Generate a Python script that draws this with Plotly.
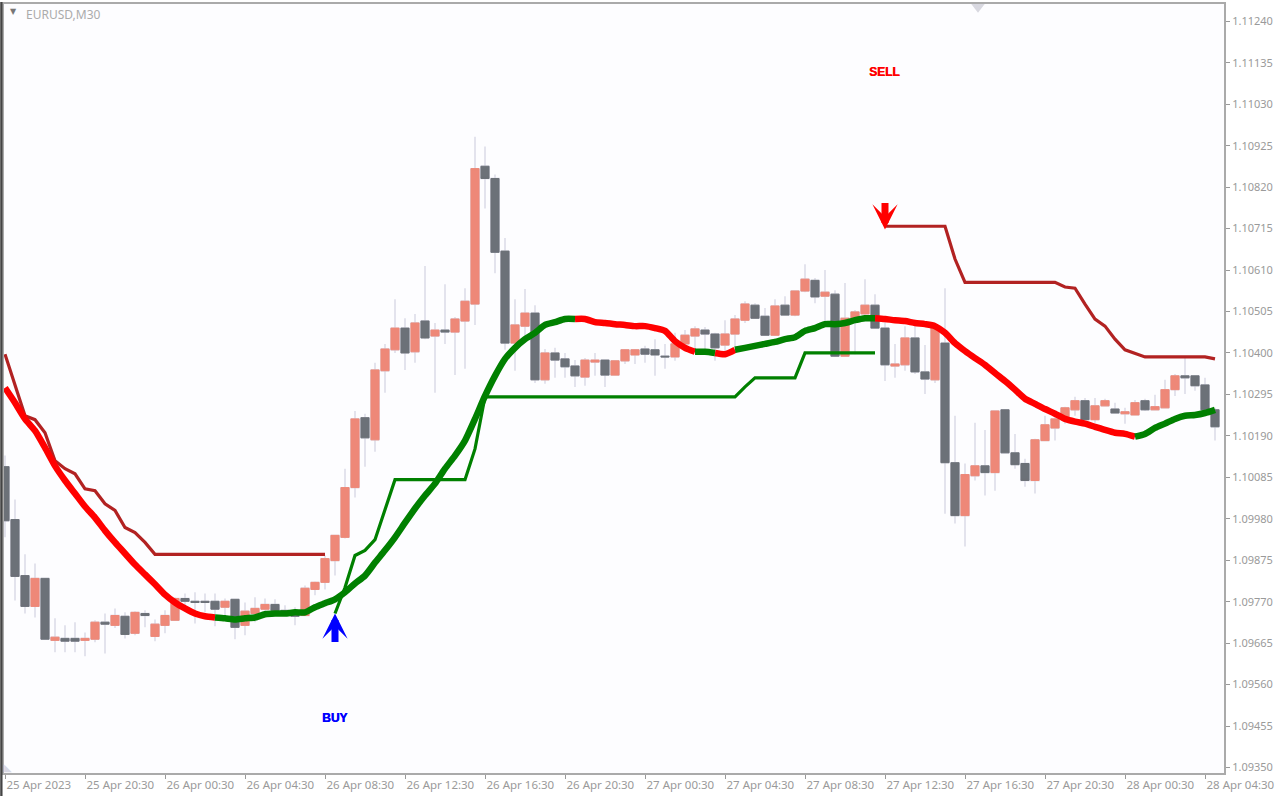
import plotly.graph_objects as go

# EURUSD M30, prices kept in points (1 point = 0.00001)
opens = [110112,109978,109836,109758,109829,109672,109677,109677,109672,109675,
         109718,109710,109733,109690,109740,109682,109710,109723,109778,109771,
         109771,109771,109756,109776,109710,109740,109751,109763,109748,109746,
         109735,109801,109819,109874,109933,110059,110236,110180,110355,110408,
         110463,110403,110481,110443,110458,110453,110481,110524,110873,110842,
         110658,110425,110468,110501,110332,110400,110385,110367,110339,110377,
         110382,110344,110380,110395,110410,110408,110392,110390,110423,110443,
         110458,110448,110420,110448,110483,110521,110493,110445,110521,110496,
         110557,110584,110544,110549,110392,110488,110499,110521,110463,110367,
         110370,110438,110352,110332,110425,110122,109988,110089,110114,110097,
         110256,110147,110120,110077,110178,110210,110236,110256,110279,110231,
         110266,110258,110246,110243,110279,110256,110261,110307,110342,110342,
         110319,110256]
closes = [109975,109834,109758,109829,109675,109680,109670,109670,109677,109718,
          109713,109735,109687,109743,109735,109713,109735,109778,109771,109768,
          109768,109751,109771,109705,109746,109753,109763,109748,109743,109733,
          109804,109819,109879,109938,110059,110233,110185,110357,110410,110463,
          110400,110476,110438,110458,110453,110486,110531,110867,110842,110655,
          110425,110471,110501,110332,110400,110382,110365,110342,110382,110382,
          110344,110380,110408,110408,110397,110395,110390,110423,110445,110461,
          110448,110413,110448,110486,110524,110488,110445,110519,110496,110557,
          110587,110542,110554,110392,110488,110504,110521,110463,110370,110372,
          110438,110352,110334,110463,110122,109988,110092,110114,110097,110253,
          110147,110117,110077,110180,110218,110233,110261,110279,110231,110266,
          110279,110248,110251,110274,110256,110264,110307,110342,110337,110317,
          110256,110213]
highs = [110140,110029,109890,109867,109829,109728,109710,109718,109692,109723,
         109740,109753,109743,109746,109748,109725,109748,109781,109791,109794,
         109791,109791,109778,109776,109768,109781,109778,109776,109761,109756,
         109811,109821,109887,109938,110107,110253,110246,110375,110423,110536,
         110488,110499,110620,110476,110574,110491,110564,110948,110923,110852,
         110691,110536,110562,110521,110410,110413,110400,110382,110387,110400,
         110382,110380,110410,110410,110418,110435,110423,110451,110458,110468,
         110466,110451,110483,110496,110531,110526,110514,110536,110544,110557,
         110625,110590,110610,110559,110577,110509,110587,110549,110486,110423,
         110468,110468,110420,110476,110564,110241,110120,110223,110205,110253,
         110258,110195,110132,110183,110241,110246,110264,110289,110286,110286,
         110284,110274,110261,110281,110284,110294,110332,110347,110387,110342,
         110337,110261]
lows = [109933,109773,109740,109730,109675,109642,109642,109642,109632,109667,
        109639,109703,109677,109685,109705,109670,109690,109723,109761,109715,
        109743,109708,109730,109675,109685,109718,109743,109743,109735,109710,
        109735,109786,109801,109836,109930,110034,110112,110150,110299,110400,
        110357,110375,110435,110299,110423,110344,110360,110471,110766,110602,
        110408,110355,110438,110324,110322,110337,110337,110314,110317,110342,
        110314,110342,110372,110372,110375,110342,110360,110380,110408,110410,
        110410,110380,110405,110415,110476,110486,110445,110443,110496,110493,
        110554,110526,110476,110390,110392,110397,110493,110463,110329,110337,
        110355,110347,110296,110324,109993,109968,109910,110077,110039,110051,
        110147,110107,110061,110044,110178,110178,110221,110241,110231,110223,
        110266,110246,110221,110243,110253,110256,110261,110291,110296,110304,
        110253,110178]

# thick moving average
ma = [110312,110274,110233,110203,110160,110114,110077,110044,110011,109983,
      109950,109920,109892,109864,109839,109814,109788,109768,109753,109740,
      109733,109730,109728,109725,109728,109730,109738,109740,109740,109743,
      109743,109756,109766,109776,109794,109816,109836,109869,109900,109933,
      109970,110006,110039,110069,110107,110140,110178,110233,110291,110342,
      110385,110413,110435,110451,110471,110478,110486,110486,110486,110478,
      110476,110473,110471,110468,110468,110463,110456,110430,110413,110403,
      110403,110400,110397,110408,110413,110418,110423,110428,110435,110440,
      110456,110463,110473,110473,110476,110483,110488,110488,110486,110483,
      110481,110476,110473,110468,110451,110425,110405,110387,110370,110349,
      110329,110307,110284,110271,110258,110246,110233,110226,110221,110213,
      110205,110198,110195,110188,110195,110210,110221,110233,110241,110243,
      110248,110256]
ma_red_runs = [(0, 21), (57, 69), (71, 73), (87, 113)]
ma_green_runs = [(21, 57), (69, 71), (73, 87), (113, 121)]

# thin trailing stops
stop_down = ([110397,110317,110241,110231,110198,110127,110107,110094,110056,110051,
              110018,110001,109958,109945,109920] + [109890] * 18 + [None] * 55
             + [110721] * 7 + [110638] + [110579] * 10
             + [110567,110564,110524,110486,110468,110435,110408,110400]
             + [110390] * 7 + [110385])
stop_up = ([None] * 33 + [109740,109806,109887,109900,109927,110006] + [110079] * 8
           + [110157] + [110289] * 26 + [110314] + [110337] * 5 + [110400] * 8 + [None] * 34)

price_ticks = ["1.11240","1.11135","1.11030","1.10925","1.10820","1.10715","1.10610",
               "1.10505","1.10400","1.10295","1.10190","1.10085","1.09980","1.09875",
               "1.09770","1.09665","1.09560","1.09455","1.09350"]
time_ticks = ["25 Apr 2023","25 Apr 20:30","26 Apr 00:30","26 Apr 04:30","26 Apr 08:30",
              "26 Apr 12:30","26 Apr 16:30","26 Apr 20:30","27 Apr 00:30","27 Apr 04:30",
              "27 Apr 08:30","27 Apr 12:30","27 Apr 16:30","27 Apr 20:30","28 Apr 00:30",
              "28 Apr 04:30"]
time_tick_idx = list(range(0, 121, 8))

buy_idx, buy_price = 33, 1.09740
sell_idx, sell_price = 88, 1.10713
buy_label_price = 1.09476
sell_label_price = 1.11111
shift_idx, shift_price = 97.3, 1.11277

GREY = "#9a9a9a"
UP = "#EE8878"
DOWN = "#6C7178"
WICK = "#D6D6E4"
x = list(range(len(opens)))


def pr(vals):
    return [None if v is None else v / 100000 for v in vals]


def run_values(vals, runs):
    out = [None] * len(vals)
    for a, b in runs:
        for i in range(a, b + 1):
            out[i] = vals[i]
    return out


body_top = [max(o, c) for o, c in zip(opens, closes)]
body_bot = [min(o, c) for o, c in zip(opens, closes)]

fig = go.Figure()
# wicks first, then bodies on top so small bodies keep their own colour
fig.add_trace(go.Candlestick(
    x=x, open=pr(opens), high=pr(highs), low=pr(lows), close=pr(closes),
    increasing=dict(fillcolor=WICK, line=dict(color=WICK, width=1.3)),
    decreasing=dict(fillcolor=WICK, line=dict(color=WICK, width=1.3)),
    whiskerwidth=0,
    showlegend=False,
))
fig.add_trace(go.Candlestick(
    x=x, open=pr(opens), high=pr(body_top), low=pr(body_bot), close=pr(closes),
    increasing=dict(fillcolor=UP, line=dict(color=UP, width=1)),
    decreasing=dict(fillcolor=DOWN, line=dict(color=DOWN, width=1)),
    whiskerwidth=0,
    showlegend=False,
))
fig.add_trace(go.Scatter(x=x, y=pr(stop_down), mode="lines",
                         line=dict(color="#B22222", width=3.2), showlegend=False))
fig.add_trace(go.Scatter(x=x, y=pr(stop_up), mode="lines",
                         line=dict(color="#008000", width=3.2), showlegend=False))
fig.add_trace(go.Scatter(x=x, y=pr(run_values(ma, ma_red_runs)), mode="lines",
                         line=dict(color="#FF0000", width=6.5, shape="spline", smoothing=0.6),
                         showlegend=False))
fig.add_trace(go.Scatter(x=x, y=pr(run_values(ma, ma_green_runs)), mode="lines",
                         line=dict(color="#008000", width=6.5, shape="spline", smoothing=0.6),
                         showlegend=False))
# chart shift marker at the top edge
fig.add_trace(go.Scatter(x=[shift_idx], y=[shift_price], mode="markers", cliponaxis=False,
                         marker=dict(symbol="triangle-down", size=12, color="#D8D8E0"),
                         showlegend=False))

annotations = [
    # buy / sell arrows
    dict(x=buy_idx, y=buy_price, ax=0, ay=30, showarrow=True, text="", arrowhead=3,
         arrowsize=0.6, arrowwidth=7, arrowcolor="#0000FF"),
    dict(x=sell_idx, y=sell_price, ax=0, ay=-28, showarrow=True, text="", arrowhead=3,
         arrowsize=0.6, arrowwidth=7, arrowcolor="#FF0000"),
    dict(x=buy_idx - 0.1, y=buy_label_price, text="<b>BUY</b>", showarrow=False,
         font=dict(family="Liberation Sans", size=12, color="#0000FF", shadow="0.5px 0 0 #0000FF")),
    dict(x=sell_idx - 0.1, y=sell_label_price, text="<b>SELL</b>", showarrow=False,
         font=dict(family="Liberation Sans", size=12, color="#FF0000", shadow="0.5px 0 0 #FF0000")),
    # chart header and small markers
    dict(xref="paper", yref="paper", x=0.0165, y=0.9985, xanchor="left", yanchor="top", yshift=1,
         text="EURUSD,M30", showarrow=False, font=dict(family="Noto Sans", size=12, color="#ABABAB")),
    dict(xref="paper", yref="paper", x=0.0075, y=0.9985, xanchor="center", yanchor="top",
         text="▼", showarrow=False, font=dict(family="DejaVu Sans", size=8, color="#777777")),
    dict(xref="paper", yref="paper", x=0.0, y=0.0, xanchor="left", yanchor="bottom", xshift=-2, yshift=-2,
         text="◣", showarrow=False, font=dict(family="DejaVu Sans", size=10, color="#D8D8E4")),
]

fig.update_layout(
    width=1283, height=797,
    margin=dict(l=4, r=59, t=2, b=24),
    paper_bgcolor="#FFFFFF",
    plot_bgcolor="#FDFDFF",
    boxgap=0.15,
    boxgroupgap=0.05,
    hovermode=False,
    annotations=annotations,
    shapes=[dict(type="rect", xref="paper", yref="paper", x0=-0.0031, x1=-0.0012, y0=-0.03, y1=1.0026,
                 fillcolor="#444444", line_width=0)],
    xaxis=dict(
        range=[-0.1, 121.9],
        tickmode="array", tickvals=time_tick_idx, ticktext=time_ticks,
        ticks="outside", ticklen=4, tickcolor="#999999",
        ticklabelposition="outside right",
        tickfont=dict(family="Noto Sans", size=11.5, color=GREY),
        showgrid=False, zeroline=False, rangeslider=dict(visible=False),
        showline=True, linecolor="#AAAAAA", linewidth=2, mirror=True,
    ),
    yaxis=dict(
        side="right",
        range=[1.09336, 1.11284],
        tickmode="array", tickvals=[float(t) for t in price_ticks], ticktext=price_ticks,
        ticks="outside", ticklen=4, tickcolor="#999999",
        tickfont=dict(family="Noto Sans", size=11, color=GREY),
        showgrid=False, zeroline=False,
        showline=True, linecolor="#AAAAAA", linewidth=2, mirror=True,
    ),
)

# page margin off so the chart sits at the window corner
fig.write_html("out.html", config={"displayModeBar": False},
               post_script="document.body.style.margin='0';")
